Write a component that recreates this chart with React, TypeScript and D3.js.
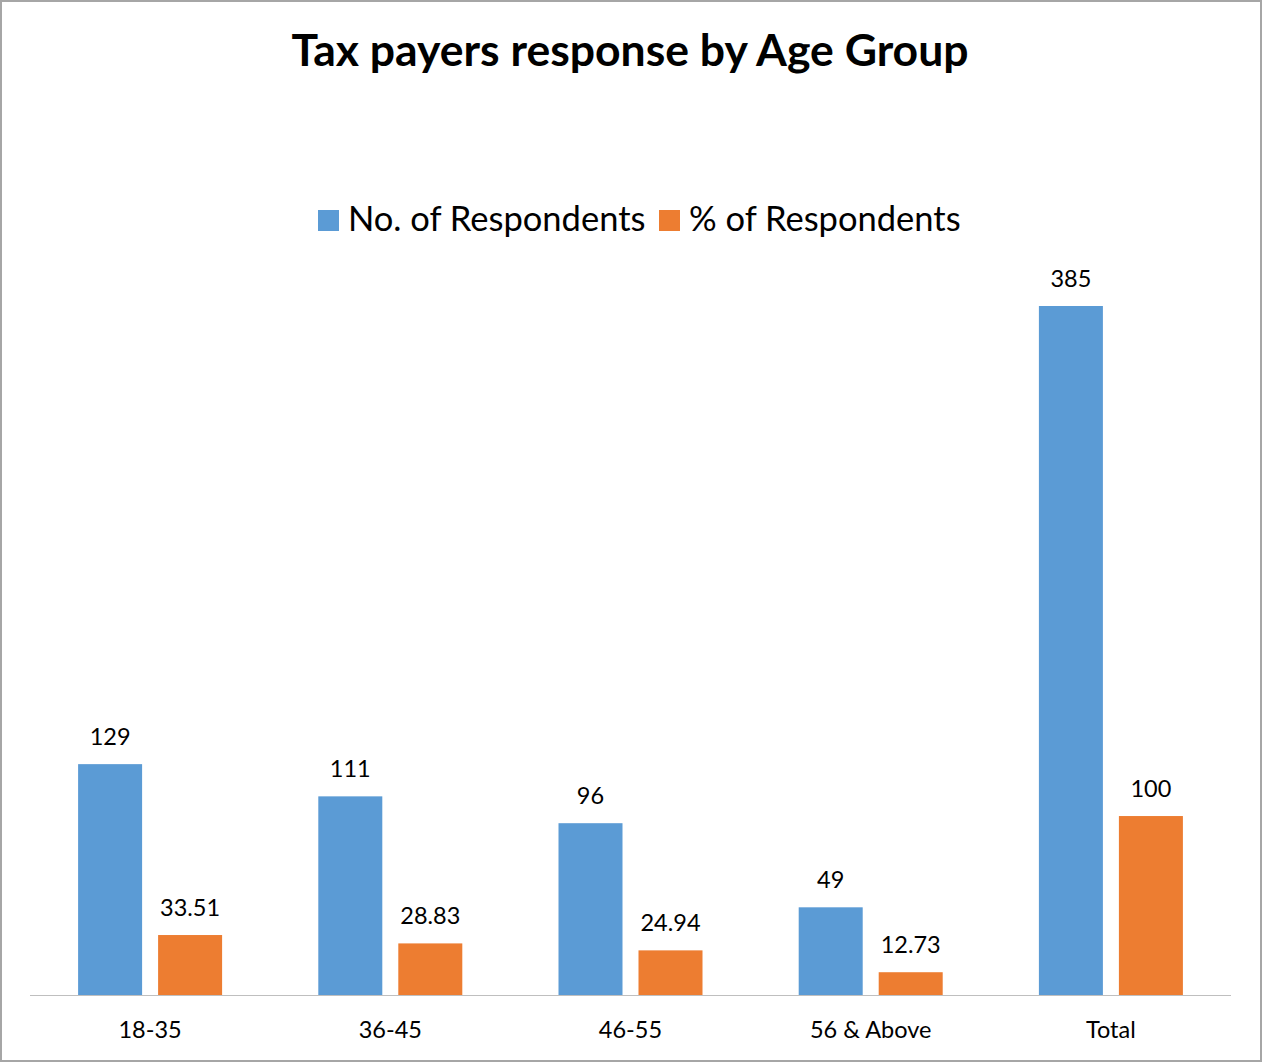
import React from "react";
import * as d3 from "d3";

const categories = ["18-35", "36-45", "46-55", "56 & Above", "Total"];
const noOfRespondents = [129, 111, 96, 49, 385];
const pctOfRespondents = [33.51, 28.83, 24.94, 12.73, 100];
const noLabels = ["129", "111", "96", "49", "385"];
const pctLabels = ["33.51", "28.83", "24.94", "12.73", "100"];
const seriesNames = ["No. of Respondents", "% of Respondents"];
const colors = ["#5B9BD5", "#ED7D31"];

const W = 1263;
const H = 1063;
const FONT = "Lato, 'Open Sans', sans-serif";

export default function App() {
  const plotLeft = 30;
  const plotRight = 1231;
  const baseline = 995;
  const x = d3.scaleBand<string>().domain(categories).range([plotLeft, plotRight]);
  const y = d3.scaleLinear().domain([0, 385]).range([baseline, 306]);
  const barW = 64;
  const gap = 16;
  const series = [noOfRespondents, pctOfRespondents];
  const labels = [noLabels, pctLabels];

  return (
    <svg width={W} height={H} style={{ position: "absolute", left: 0, top: 0, background: "#fff" }} fontFamily={FONT}>
      <rect x={1} y={1} width={W - 3} height={H - 3} fill="#fff" stroke="#A6A6A6" strokeWidth={2} />
      <text x={630} y={66} textAnchor="middle" fontSize={44.5} fontWeight="bold" fill="#000">
        Tax payers response by Age Group
      </text>
      {/* legend */}
      <g fontSize={34.5} fill="#000">
        <rect x={318} y={210} width={21} height={21} fill={colors[0]} />
        <text x={348} y={231}>{seriesNames[0]}</text>
        <rect x={659} y={210} width={21} height={21} fill={colors[1]} />
        <text x={689} y={231}>{seriesNames[1]}</text>
      </g>
      {categories.map((c, i) => {
        const cx = (x(c) as number) + x.bandwidth() / 2;
        return (
          <g key={c}>
            {series.map((s, k) => {
              const bx = k === 0 ? cx - gap / 2 - barW : cx + gap / 2;
              const top = y(s[i]);
              return (
                <g key={k}>
                  <rect x={bx} y={top} width={barW} height={baseline - top} fill={colors[k]} />
                  <text x={bx + barW / 2} y={top - 19} textAnchor="middle" fontSize={23.5} fill="#000">
                    {labels[k][i]}
                  </text>
                </g>
              );
            })}
            <text x={cx} y={1038} textAnchor="middle" fontSize={23.5} fill="#000">
              {c}
            </text>
          </g>
        );
      })}
      <line x1={plotLeft} x2={plotRight} y1={baseline + 0.5} y2={baseline + 0.5} stroke="#BFBFBF" strokeWidth={1} />
    </svg>
  );
}
